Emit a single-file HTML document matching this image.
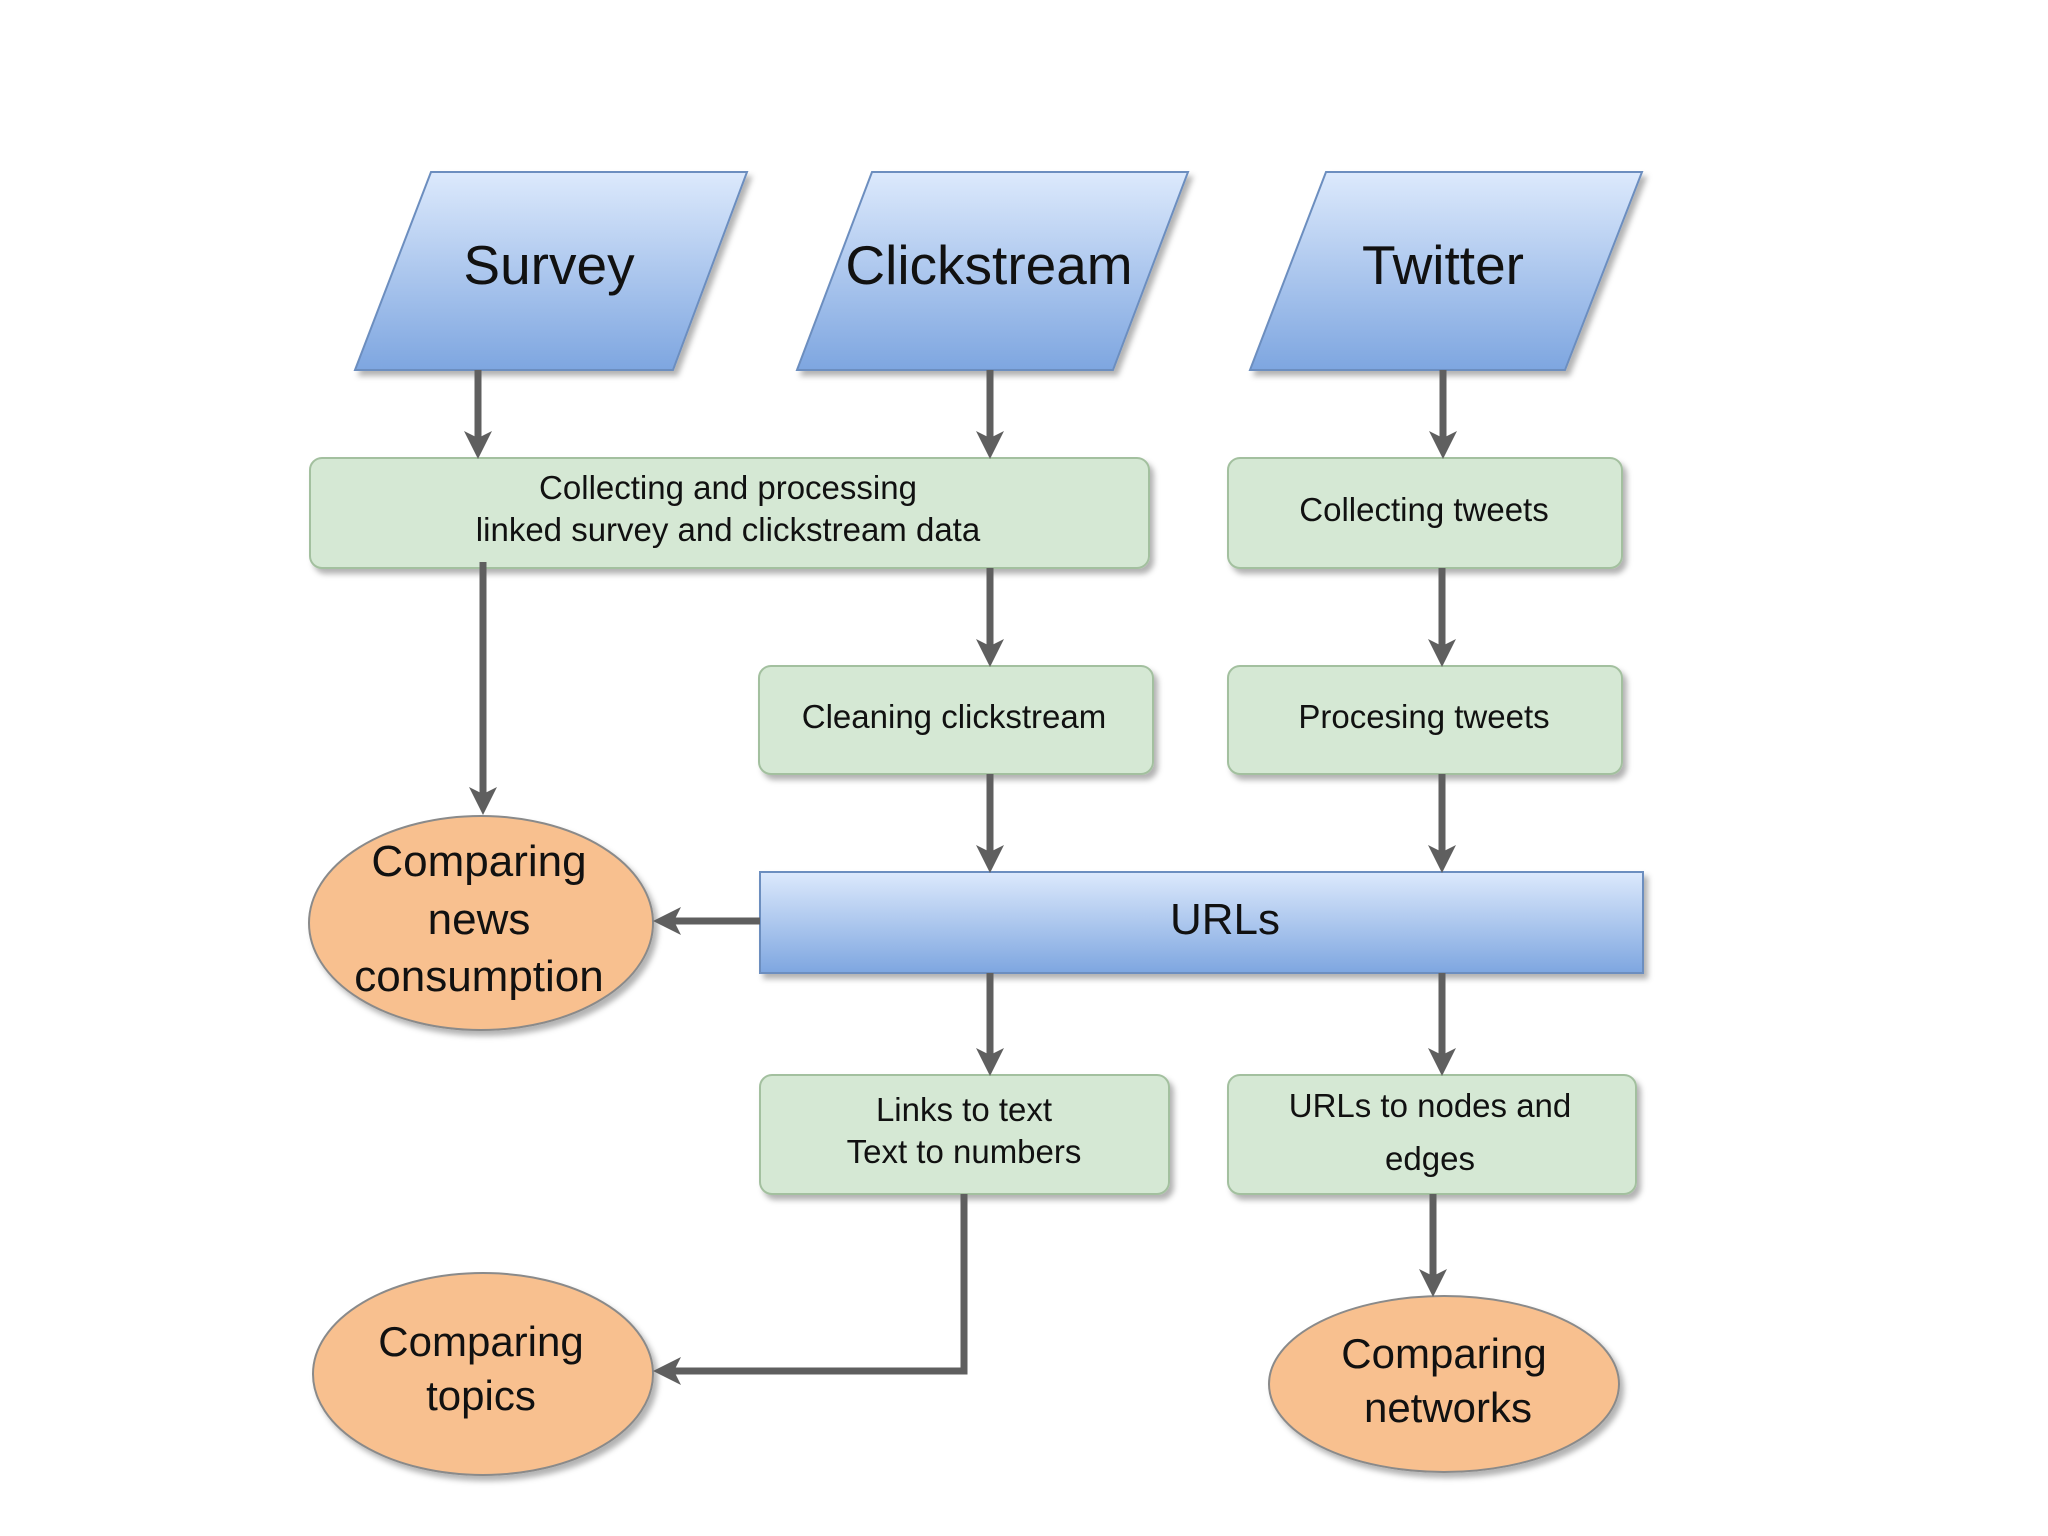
<!DOCTYPE html>
<html><head><meta charset="utf-8"><style>
html,body{margin:0;padding:0;background:#fff;}
svg{display:block;}
text{font-family:"Liberation Sans",sans-serif;fill:#111;}
</style></head><body>
<svg width="2048" height="1536" viewBox="0 0 2048 1536" xmlns="http://www.w3.org/2000/svg">
<defs>
<linearGradient id="bl" x1="0" y1="0" x2="0" y2="1"><stop offset="0" stop-color="#dce9fc"/><stop offset="1" stop-color="#7ea6e0"/></linearGradient>
<filter id="sh" x="-10%" y="-10%" width="130%" height="140%"><feDropShadow dx="4" dy="5" stdDeviation="3" flood-color="#000" flood-opacity="0.3"/></filter>
<marker id="ah" markerWidth="4" markerHeight="4" refX="3" refY="2" orient="auto" markerUnits="strokeWidth"><path d="M0,0 L4,2 L0,4 L1,2 z" fill="#5f5f5f"/></marker>
</defs>
<g stroke="#6c8ebf" stroke-width="2" fill="url(#bl)" filter="url(#sh)">
<polygon points="431,172 747,172 673,370 355,370"/>
<polygon points="872,172 1188,172 1113,370 797,370"/>
<polygon points="1326,172 1642,172 1565,370 1250,370"/>
<rect x="760" y="872" width="883" height="101"/>
</g>
<g fill="#d5e8d4" stroke="#a3c09f" stroke-width="2" filter="url(#sh)">
<rect x="310" y="458" width="839" height="110" rx="12"/>
<rect x="1228" y="458" width="394" height="110" rx="12"/>
<rect x="759" y="666" width="394" height="108" rx="12"/>
<rect x="1228" y="666" width="394" height="108" rx="12"/>
<rect x="760" y="1075" width="409" height="119" rx="12"/>
<rect x="1228" y="1075" width="408" height="119" rx="12"/>
</g>
<g fill="#f8c08f" stroke="#8a8a8a" stroke-width="2" filter="url(#sh)">
<ellipse cx="481" cy="923" rx="172" ry="107"/>
<ellipse cx="483" cy="1374" rx="170" ry="101"/>
<ellipse cx="1444" cy="1384" rx="175" ry="88"/>
</g>
<g stroke="#5f5f5f" stroke-width="7" fill="none" marker-end="url(#ah)">
<line x1="478" y1="370" x2="478" y2="452"/>
<line x1="990" y1="370" x2="990" y2="452"/>
<line x1="1443" y1="370" x2="1443" y2="452"/>
<line x1="483" y1="562" x2="483" y2="808"/>
<line x1="990" y1="568" x2="990" y2="660"/>
<line x1="1442" y1="568" x2="1442" y2="660"/>
<line x1="990" y1="774" x2="990" y2="866"/>
<line x1="1442" y1="774" x2="1442" y2="866"/>
<line x1="760" y1="921" x2="660" y2="921"/>
<line x1="990" y1="973" x2="990" y2="1069"/>
<line x1="1442" y1="973" x2="1442" y2="1069"/>
<polyline points="964,1194 964,1371 660,1371"/>
<line x1="1433" y1="1194" x2="1433" y2="1290"/>
</g>
<g text-anchor="middle">
<text x="549" y="284" font-size="55">Survey</text>
<text x="989" y="284" font-size="55">Clickstream</text>
<text x="1443" y="284" font-size="55">Twitter</text>
<text x="728" y="499" font-size="33">Collecting and processing</text>
<text x="728" y="541" font-size="33">linked survey and clickstream data</text>
<text x="1424" y="521" font-size="33">Collecting tweets</text>
<text x="954" y="728" font-size="33">Cleaning clickstream</text>
<text x="1424" y="728" font-size="33">Procesing tweets</text>
<text x="1225" y="934" font-size="44">URLs</text>
<text x="964" y="1121" font-size="33">Links to text</text>
<text x="964" y="1163" font-size="33">Text to numbers</text>
<text x="1430" y="1117" font-size="33">URLs to nodes and</text>
<text x="1430" y="1170" font-size="33">edges</text>
<text x="479" y="876" font-size="44">Comparing</text>
<text x="479" y="934" font-size="44">news</text>
<text x="479" y="991" font-size="44">consumption</text>
<text x="481" y="1356" font-size="42">Comparing</text>
<text x="481" y="1410" font-size="42">topics</text>
<text x="1444" y="1368" font-size="42">Comparing</text>
<text x="1448" y="1422" font-size="42">networks</text>
</g>
</svg>
</body></html>
